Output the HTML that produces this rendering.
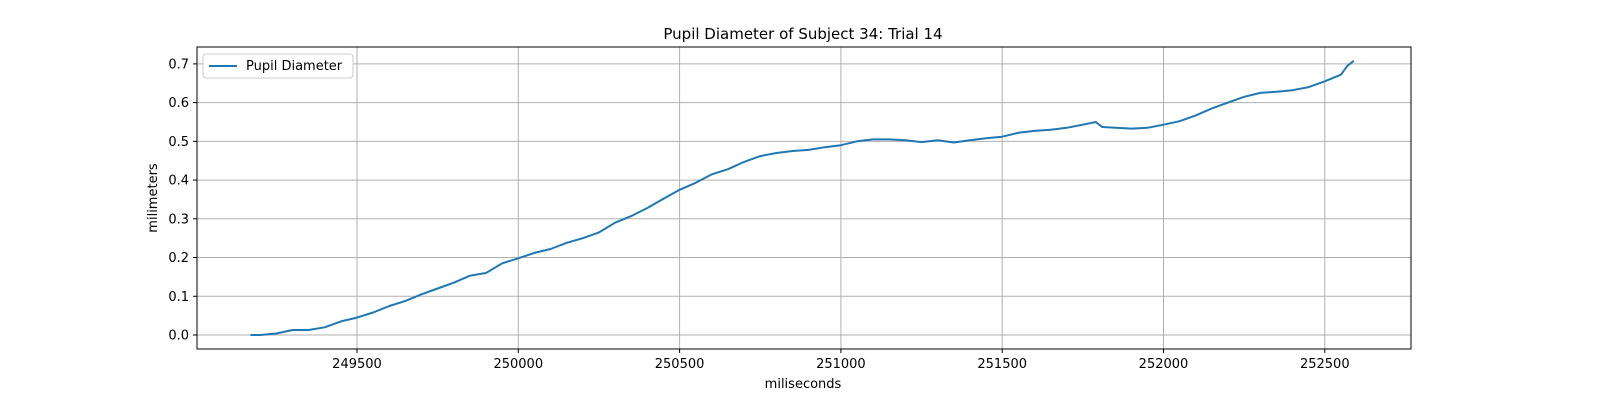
<!DOCTYPE html>
<html><head><meta charset="utf-8"><style>
body{margin:0;background:#fff;font-family:"Liberation Sans","DejaVu Sans",sans-serif}
svg text{font-family:"DejaVu Sans","Liberation Sans",sans-serif}
</style></head><body>
<svg id="chart" width="1600" height="400" viewBox="0 0 1600 400" xmlns="http://www.w3.org/2000/svg">
<rect width="1600" height="400" fill="#fff"/>
<text x="803" y="39" font-size="15" text-anchor="middle">Pupil Diameter of Subject 34: Trial 14</text>
<g id="grid"></g>
<g id="ticks"></g>
<path id="line" fill="none" stroke="#1f77b4" stroke-width="2" stroke-linejoin="round"/>
<rect x="197" y="47" width="1214" height="302" fill="none" stroke="#000" stroke-width="1"/>
<text x="803" y="388" font-size="13" text-anchor="middle">miliseconds</text>
<text transform="translate(157,198) rotate(-90)" font-size="13" text-anchor="middle">milimeters</text>
<g>
<rect x="203" y="54" width="150" height="24" rx="3" fill="#fff" stroke="#ccc"/>
<line x1="209" y1="66" x2="237" y2="66" stroke="#1f77b4" stroke-width="2"/>
<text x="246" y="70" font-size="13">Pupil Diameter</text>
</g>
</svg>
<script>
const times=[249170,249200,249250,249300,249350,249400,249450,249500,249550,249600,249650,249700,249750,249800,249850,249900,249950,250000,250050,250100,250150,250200,250250,250300,250350,250400,250450,250500,250550,250600,250650,250700,250750,250800,250850,250900,250950,251000,251050,251100,251150,251200,251250,251300,251350,251400,251450,251500,251550,251600,251650,251700,251750,251790,251810,251900,251950,252000,252050,252100,252150,252200,252250,252300,252350,252400,252450,252500,252550,252570,252590];
const diameters=[0,0,0.004,0.013,0.013,0.02,0.035,0.045,0.058,0.075,0.088,0.105,0.12,0.135,0.153,0.16,0.185,0.198,0.212,0.222,0.238,0.25,0.265,0.29,0.307,0.328,0.352,0.375,0.393,0.415,0.428,0.447,0.462,0.47,0.475,0.478,0.485,0.49,0.5,0.505,0.505,0.503,0.498,0.503,0.497,0.503,0.508,0.512,0.522,0.527,0.53,0.535,0.543,0.55,0.537,0.533,0.535,0.543,0.552,0.567,0.585,0.6,0.615,0.625,0.628,0.632,0.64,0.655,0.672,0.695,0.708];
const xTicks=[249500,250000,250500,251000,251500,252000,252500];
const yTicks=[0,0.1,0.2,0.3,0.4,0.5,0.6,0.7];
const NS="http://www.w3.org/2000/svg";
function xs(v){return 357+(v-249500)*0.3226;}
function ys(v){return 335-v*387.3;}
const grid=document.getElementById('grid'),ticks=document.getElementById('ticks');
function mk(tag,attrs,parent){const e=document.createElementNS(NS,tag);for(const k in attrs)e.setAttribute(k,attrs[k]);parent.appendChild(e);return e;}
xTicks.forEach(t=>{const x=xs(t);
const g=mk('line',{x1:x,x2:x,y1:47,y2:349,stroke:'#b0b0b0','stroke-width':1},grid);


mk('line',{x1:x,x2:x,y1:349,y2:353,stroke:'#000'},ticks);
const l=mk('text',{x:x,y:368,'font-size':13,'text-anchor':'middle'},ticks);l.textContent=t;

});
yTicks.forEach(t=>{const y=ys(t);
const g=mk('line',{x1:197,x2:1411,y1:y,y2:y,stroke:'#b0b0b0','stroke-width':1},grid);


mk('line',{x1:193,x2:197,y1:y,y2:y,stroke:'#000'},ticks);
const l=mk('text',{x:189,y:y+4.5,'font-size':13,'text-anchor':'end'},ticks);l.textContent=t.toFixed(1);

});
document.getElementById('line').setAttribute('d',times.map((t,i)=>(i?'L':'M')+xs(t).toFixed(1)+' '+ys(diameters[i]).toFixed(1)).join(' '));
</script>
</body></html>
